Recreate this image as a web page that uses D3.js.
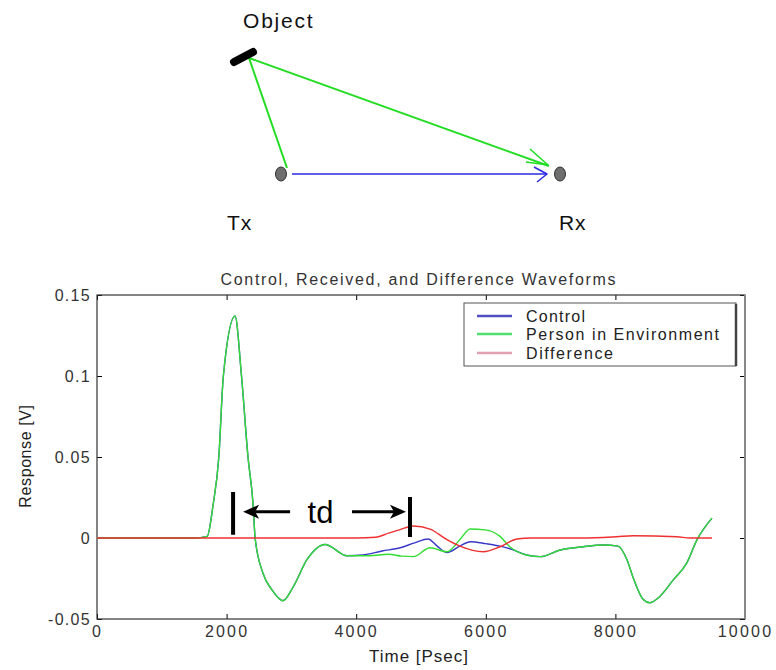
<!DOCTYPE html>
<html>
<head>
<meta charset="utf-8">
<script src="https://cdn.jsdelivr.net/npm/d3@7"></script>
<style>
  body { margin: 0; background: #fff; }
  text { font-family: "Liberation Sans", Arial, sans-serif; }
</style>
</head>
<body>
<svg id="chart" width="776" height="670"></svg>
<script>
// waveform data: [time in psec, response in V]
const controlPts = [
  [0, 0], [1500, 0], [1700, 0.001], [1790, 0.02], [1880, 0.05], [1950, 0.1], [2130, 0.137],
  [2230, 0.1], [2330, 0.05], [2410, 0.02], [2440, 0], [2560, -0.0216], [2700, -0.032],
  [2870, -0.0387], [3030, -0.030], [3240, -0.0134], [3520, -0.004], [3860, -0.011],
  [4100, -0.0105], [4400, -0.008], [4680, -0.006], [4900, -0.003], [5110, -0.0006],
  [5250, -0.005], [5400, -0.009], [5600, -0.005], [5760, -0.0023], [6000, -0.0035],
  [6220, -0.005], [6400, -0.007], [6630, -0.0105], [6840, -0.0115], [7150, -0.0074],
  [7500, -0.0054], [7810, -0.0043], [8040, -0.005], [8180, -0.0136], [8270, -0.024],
  [8430, -0.038], [8530, -0.040], [8660, -0.037], [8890, -0.026], [9100, -0.0155],
  [9260, -0.001], [9490, 0.0123]
]
const personPts = [
  [0, 0], [1500, 0], [1700, 0.001], [1790, 0.02], [1880, 0.05], [1950, 0.1], [2130, 0.137],
  [2230, 0.1], [2330, 0.05], [2410, 0.02], [2440, 0], [2560, -0.0216], [2700, -0.032],
  [2870, -0.0387], [3030, -0.030], [3240, -0.0134], [3520, -0.004], [3860, -0.011],
  [4200, -0.011], [4500, -0.0100], [4700, -0.0112], [4880, -0.0115], [5140, -0.006],
  [5400, -0.0085], [5600, -0.001], [5760, 0.0056], [5990, 0.005], [6220, 0.001],
  [6370, -0.0054], [6630, -0.0105], [6840, -0.0115], [7150, -0.0074], [7500, -0.0054],
  [7810, -0.0043], [8040, -0.005], [8180, -0.0136], [8270, -0.024], [8430, -0.038],
  [8530, -0.040], [8660, -0.037], [8890, -0.026], [9100, -0.0155], [9260, -0.001],
  [9490, 0.0123]
]
const differencePts = [
  [0, 0], [4000, 0], [4300, 0.0005], [4500, 0.003], [4680, 0.0052], [4880, 0.0074],
  [5140, 0.0055], [5400, -0.001], [5600, -0.005], [5960, -0.0085], [6220, -0.0054],
  [6480, -0.0006], [6700, 0], [7500, 0], [8020, 0.0008], [8270, 0.0014], [8950, 0.0008],
  [9150, 0], [9490, 0]
]

const seriesNames = ['Control', 'Person in Environment', 'Difference']
const seriesColors = ['#3838c8', '#33dd33', '#ee3030']
const legendColors = ['#5050c0', '#50e070', '#e0a0b0']

const xTicks = [0, 2000, 4000, 6000, 8000, 10000]
const yTicks = [-0.05, 0, 0.05, 0.1, 0.15]
const yTickLabels = ['-0.05', '0', '0.05', '0.1', '0.15']

// time-delay markers (start/end of td) and the value span of each bar
const tdTimes = [2100, 4830]
const tdBarSpans = [[0.002, 0.0284], [0.0006, 0.0253]]
const tdArrowLevel = 0.0162

const svg = d3.select('#chart')
svg.append('rect').attr('width', 776).attr('height', 670).attr('fill', '#fff')

// ---------- Tx / Rx / Object sketch ----------
const sketch = svg.append('g')
const label = (t, px, py, ls) => sketch.append('text').attr('x', px).attr('y', py)
  .attr('font-size', 21).attr('fill', '#111').attr('letter-spacing', ls + 'px').text(t)
label('Object', 243, 28, 1.8)
label('Tx', 227, 230, 0.8)
label('Rx', 559, 230, 0.8)

const green = '#22dd22'
const seg = (pts, color, w) => sketch.append('path')
  .attr('d', d3.line()(pts)).attr('fill', 'none').attr('stroke', color)
  .attr('stroke-width', w).attr('stroke-linejoin', 'round')

seg([[249, 58], [287, 168]], green, 2)
seg([[249, 58], [549, 166]], green, 2)
seg([[530, 149], [548, 165], [526, 162]], green, 1.6)
seg([[292, 174], [546, 174]], '#2a2ae0', 1.5)
seg([[534, 167], [547, 174], [537, 182]], '#2a2ae0', 1.5)

sketch.append('path').attr('d', d3.line()([[234, 62], [253, 52]]))
  .attr('stroke', '#000').attr('stroke-width', 8).attr('stroke-linecap', 'round')

sketch.selectAll('ellipse').data([[281, 174], [560, 174]]).join('ellipse')
  .attr('cx', d => d[0]).attr('cy', d => d[1]).attr('rx', 5.5).attr('ry', 7)
  .attr('fill', '#6e6e6e').attr('stroke', '#333').attr('stroke-width', 1)

// ---------- waveform chart ----------
const pLeft = 97, pRight = 745, pTop = 295, pBottom = 619

const x = d3.scaleLinear().domain([0, 10000]).range([pLeft, pRight])
const y = d3.scaleLinear().domain([-0.05, 0.15]).range([pBottom, pTop])

svg.append('text').attr('x', 418).attr('y', 285).attr('text-anchor', 'middle')
  .attr('font-size', 16).attr('fill', '#333')
  .attr('textLength', 395).attr('lengthAdjust', 'spacing')
  .text('Control, Received, and Difference Waveforms')

const tickFont = ls => g => g.selectAll('text')
  .attr('font-size', 16).attr('fill', '#333').attr('letter-spacing', ls + 'px')
  .attr('font-family', '"Liberation Sans", Arial, sans-serif')

svg.append('g').attr('transform', `translate(0,${pBottom})`)
  .call(d3.axisBottom(x).tickValues(xTicks).tickFormat(d3.format('d'))
    .tickSizeInner(-5).tickSizeOuter(0).tickPadding(7))
  .call(g => g.select('.domain').remove())
  .call(tickFont(2.2))

svg.append('g').attr('transform', `translate(0,${pTop})`)
  .call(d3.axisTop(x).tickValues(xTicks).tickFormat('').tickSizeInner(-5).tickSizeOuter(0))
  .call(g => g.select('.domain').remove())

svg.append('g').attr('transform', `translate(${pLeft},0)`)
  .call(d3.axisLeft(y).tickValues(yTicks).tickFormat((d, i) => yTickLabels[i])
    .tickSizeInner(-5).tickSizeOuter(0).tickPadding(6))
  .call(g => g.select('.domain').remove())
  .call(tickFont(1.3))

svg.append('g').attr('transform', `translate(${pRight},0)`)
  .call(d3.axisRight(y).tickValues(yTicks).tickFormat('').tickSizeInner(-5).tickSizeOuter(0))
  .call(g => g.select('.domain').remove())

svg.append('rect').attr('x', pLeft).attr('y', pTop)
  .attr('width', pRight - pLeft).attr('height', pBottom - pTop)
  .attr('fill', 'none').attr('stroke', '#333').attr('stroke-width', 1.2)
svg.append('line').attr('x1', pRight).attr('x2', pRight).attr('y1', pTop).attr('y2', pBottom)
  .attr('stroke', '#888').attr('stroke-width', 2)

const line = d3.line().x(d => x(d[0])).y(d => y(d[1])).curve(d3.curveMonotoneX)
const series = [controlPts, personPts, differencePts]
svg.append('g').selectAll('path').data(series).join('path')
  .attr('d', line).attr('fill', 'none')
  .attr('stroke', (d, i) => seriesColors[i]).attr('stroke-width', 1.4)

// axis labels
svg.append('text').attr('x', 419).attr('y', 662).attr('text-anchor', 'middle')
  .attr('font-size', 17).attr('fill', '#222').attr('letter-spacing', '1px')
  .text('Time [Psec]')
svg.append('text').attr('transform', 'translate(31,456) rotate(-90)').attr('text-anchor', 'middle')
  .attr('font-size', 16).attr('fill', '#222').attr('letter-spacing', '0.6px')
  .text('Response [V]')

// legend
const lg = svg.append('g')
lg.append('rect').attr('x', 464).attr('y', 303).attr('width', 272).attr('height', 63)
  .attr('fill', '#fff').attr('stroke', '#555').attr('stroke-width', 1)
lg.append('line').attr('x1', 736).attr('x2', 736).attr('y1', 304).attr('y2', 366)
  .attr('stroke', '#444').attr('stroke-width', 2.5)
const lgRows = [316, 334, 353]
const lgWidths = [59, 193, 87]
seriesNames.forEach((name, i) => {
  lg.append('line').attr('x1', 477).attr('x2', 512).attr('y1', lgRows[i]).attr('y2', lgRows[i])
    .attr('stroke', legendColors[i]).attr('stroke-width', 2.5)
  lg.append('text').attr('x', 526).attr('y', lgRows[i] + 6)
    .attr('font-size', 16).attr('fill', '#222')
    .attr('textLength', lgWidths[i]).attr('lengthAdjust', 'spacing')
    .text(name)
})

// td annotation
const ann = svg.append('g')
tdTimes.forEach((t, i) => {
  ann.append('line').attr('x1', x(t)).attr('x2', x(t))
    .attr('y1', y(tdBarSpans[i][0])).attr('y2', y(tdBarSpans[i][1]))
    .attr('stroke', '#000').attr('stroke-width', 4)
})
const ay = y(tdArrowLevel)
const lx = x(tdTimes[0]) + 10, rx = x(tdTimes[1]) - 4
ann.append('line').attr('x1', lx + 12).attr('x2', lx + 47).attr('y1', ay).attr('y2', ay)
  .attr('stroke', '#000').attr('stroke-width', 3)
ann.append('path').attr('d', `M${lx},${ay} L${lx + 16},${ay - 7} L${lx + 12},${ay} L${lx + 16},${ay + 7} Z`)
  .attr('fill', '#000')
ann.append('line').attr('x1', rx - 54).attr('x2', rx - 12).attr('y1', ay).attr('y2', ay)
  .attr('stroke', '#000').attr('stroke-width', 3)
ann.append('path').attr('d', `M${rx},${ay} L${rx - 16},${ay - 7} L${rx - 12},${ay} L${rx - 16},${ay + 7} Z`)
  .attr('fill', '#000')
ann.append('text').attr('x', (lx + rx) / 2 - 4).attr('y', ay + 11).attr('text-anchor', 'middle')
  .attr('font-size', 31).attr('fill', '#000').text('td')
</script>
</body>
</html>
